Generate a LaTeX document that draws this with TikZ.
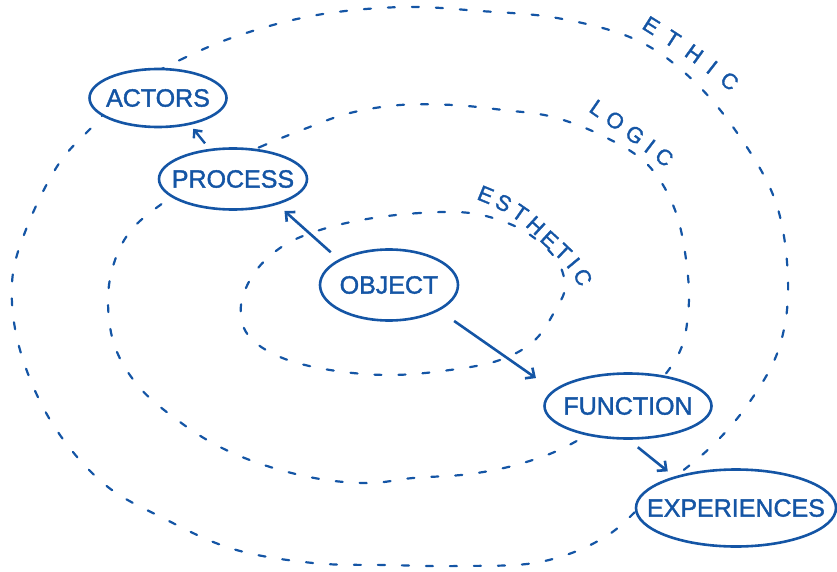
\documentclass[tikz,border=0pt]{standalone}
\usepackage{fontspec}
\setmainfont{Liberation Sans}
\newfontfamily\handfont[FakeBold=1.5]{Liberation Sans}
\usetikzlibrary{arrows.meta,decorations.text,shapes.geometric}
\definecolor{ink}{RGB}{20,85,165}
\newcommand\ztxt[1]{\makebox[0pt]{#1}}
\newcommand\lblsize{\handfont\fontsize{22pt}{22pt}\selectfont}
\begin{document}
\begin{tikzpicture}[x=1pt,y=-1pt,
  ring/.style={draw=ink, line width=2.2pt, dash pattern=on 7pt off 17pt, line cap=round},
  bubble/.style={ellipse, draw=ink, fill=white, line width=2.6pt, inner sep=0pt, text=ink,
    font=\handfont\fontsize{25pt}{25pt}\selectfont},
  arr/.style={draw=ink, line width=2.6pt, -{Straight Barb[length=7pt,width=13pt]}},
  arrsmall/.style={draw=ink, line width=2.4pt, -{Straight Barb[length=6pt,width=11pt]}},
  lbl/.style={decorate, decoration={text along path, text align={fit to path}, text color=ink}}]
\useasboundingbox (0,0) rectangle (837,572);

% rings
\draw[ring] plot[smooth cycle, tension=0.6] coordinates {(130,88) (180,60) (240,35) (317,15) (403,7) (480,11) (557,18) (632,38) (685,73) (733,127) (775,200) (788,280) (780,345) (753,397) (713,445) (655,493) (605,537) (540,562) (460,566) (387,565) (313,563) (233,549) (163,518) (103,483) (52,423) (20,350) (12,283) (27,227) (58,165) (92,127)};
\draw[ring] plot[smooth cycle, tension=0.6] coordinates {(210,170) (260,147) (307,128) (350,113) (400,105) (453,105) (503,110) (553,117) (605,137) (648,165) (675,210) (687,267) (688,315) (677,357) (640,400) (573,443) (523,463) (470,474) (413,478) (370,483) (320,479) (267,466) (220,447) (180,422) (140,388) (115,347) (108,300) (115,260) (133,228) (167,200)};
\draw[ring] plot[smooth cycle, tension=0.6] coordinates {(470,213) (420,213) (367,219) (320,230) (283,246) (255,272) (241,305) (248,335) (280,357) (330,370) (390,375) (450,370) (500,360) (535,340) (557,307) (565,287) (558,262) (537,240) (510,224)};

% nodes
\node[bubble, minimum width=137pt, minimum height=58pt] (actors) at (158,98) {\ztxt{ACTORS}};
\node[bubble, minimum width=148pt, minimum height=61pt] (process) at (233,179) {\ztxt{PROCESS}};
\node[bubble, minimum width=138pt, minimum height=71pt] (object) at (389,285) {\ztxt{OBJECT}};
\node[bubble, minimum width=167pt, minimum height=65pt] (fn) at (628,406) {\ztxt{FUNCTION}};
\node[bubble, minimum width=200pt, minimum height=77pt] (experiences) at (736,508) {\ztxt{EXPERIENCES}};

% arrows
\draw[arr, shorten <=10.6pt, shorten >=9.4pt] (object.153) -- (process.-30);
\draw[arrsmall, shorten <=7pt, shorten >=5pt] (process.128) -- (actors.-40);
\draw[arr, shorten <=18pt, shorten >=21pt] (object.-27) -- (fn.168);
\draw[arr, shorten <=11.8pt, shorten >=8.2pt] (fn.-89) -- (experiences.153);

% ring labels
\path[lbl, decoration={text={|\lblsize|ETHIC}}] (641,28) .. controls (687,57) .. (731,92);
\path[lbl, decoration={text={|\lblsize|LOGIC}}] (588,111) .. controls (627,138) .. (666,168);
\path[lbl, decoration={text={|\lblsize|ESTHETIC}}] (476,199) .. controls (505,210) and (525,223) .. (543,244) .. controls (557,257) and (573,269) .. (579,288);
\end{tikzpicture}
\end{document}
